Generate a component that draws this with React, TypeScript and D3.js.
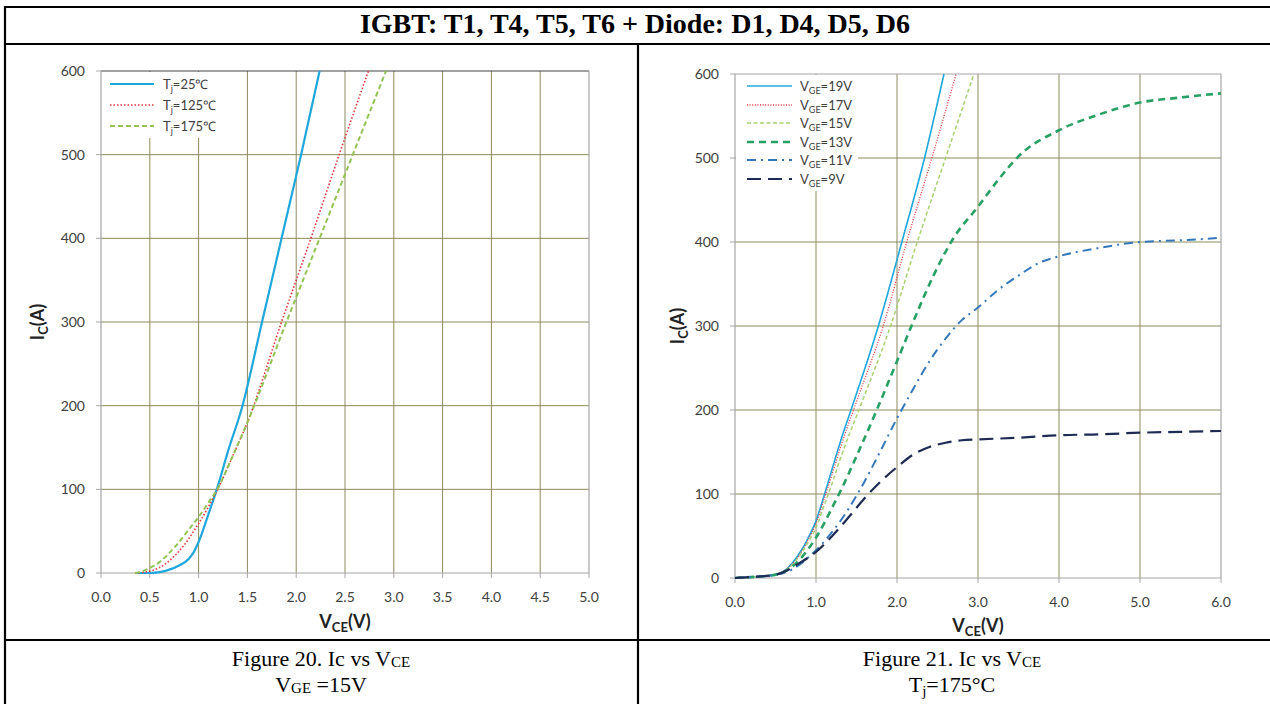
import React from 'react';
import * as d3 from 'd3';

// ---------- Data ----------
const TITLE = 'IGBT: T1, T4, T5, T6 + Diode: D1, D4, D5, D6';

const leftXTicks = [0, 0.5, 1, 1.5, 2, 2.5, 3, 3.5, 4, 4.5, 5];
const rightXTicks = [0, 1, 2, 3, 4, 5, 6];
const yTicks = [0, 100, 200, 300, 400, 500, 600];

// Figure 20 : VGE = 15V, different Tj
const tj25Vce = [0.35, 0.5, 0.6, 0.7, 0.8, 0.9, 0.95, 1.0, 1.1, 1.2, 1.3, 1.45, 1.65, 1.85, 2.05, 2.24];
const tj25Ic = [0, 0, 1, 4, 9, 17, 25, 37, 70, 105, 145, 200, 300, 400, 500, 600];
const tj125Vce = [0.35, 0.45, 0.55, 0.65, 0.75, 0.85, 0.95, 1.0, 1.1, 1.2, 1.35, 1.5, 1.85, 2.15, 2.44, 2.74];
const tj125Ic = [0, 1, 4, 10, 20, 33, 50, 59, 79, 101, 140, 180, 300, 400, 500, 600];
const tj175Vce = [0.35, 0.42, 0.5, 0.6, 0.7, 0.8, 0.9, 1.0, 1.1, 1.2, 1.35, 1.5, 1.9, 2.24, 2.58, 2.92];
const tj175Ic = [0, 2, 6, 13, 24, 37, 52, 67, 84, 102, 140, 180, 300, 400, 500, 600];

// Figure 21 : Tj = 175°C, different VGE
const vge19Vce = [0, 0.25, 0.5, 0.6, 0.7, 0.8, 0.9, 1.0, 1.1, 1.2, 1.3, 1.45, 1.77, 2.06, 2.34, 2.58];
const vge19Ic = [0, 1.5, 4, 8, 17, 30, 47, 68, 98, 130, 162, 205, 300, 400, 500, 600];
const vge17Vce = [0, 0.25, 0.5, 0.6, 0.7, 0.8, 0.9, 1.0, 1.1, 1.2, 1.3, 1.5, 1.83, 2.12, 2.43, 2.73];
const vge17Ic = [0, 1.5, 4, 8, 16, 28, 45, 65, 94, 124, 155, 210, 300, 400, 500, 600];
const vge15Vce = [0, 0.25, 0.5, 0.6, 0.7, 0.8, 0.9, 1.0, 1.1, 1.2, 1.3, 1.55, 1.92, 2.25, 2.6, 2.95];
const vge15Ic = [0, 1.5, 4, 8, 15, 27, 42, 60, 86, 113, 142, 205, 300, 400, 500, 600];
const vge13Vce = [0, 0.25, 0.5, 0.6, 0.7, 0.8, 0.9, 1.0, 1.1, 1.2, 1.3, 1.5, 1.75, 2.0, 2.2, 2.45, 2.7, 3.0, 3.25, 3.5, 4.0, 4.5, 5.0, 5.5, 6.0];
const vge13Ic = [0, 1.5, 4, 7, 13, 22, 34, 48, 65, 84, 103, 145, 200, 258, 305, 360, 405, 442, 474, 502, 533, 552, 566, 572, 577];
const vge11Vce = [0, 0.25, 0.5, 0.6, 0.7, 0.8, 0.9, 1.0, 1.2, 1.4, 1.5, 1.6, 1.8, 2.0, 2.2, 2.4, 2.6, 2.8, 3.0, 3.25, 3.5, 3.75, 4.0, 4.5, 5.0, 5.5, 6.0];
const vge11Ic = [0, 1.5, 4, 6, 10, 16, 24, 33, 55, 82, 98, 115, 152, 190, 225, 258, 285, 307, 322, 343, 360, 375, 383, 393, 400, 402, 405];
const vge9Vce = [0, 0.25, 0.5, 0.6, 0.7, 0.8, 0.9, 1.0, 1.2, 1.4, 1.6, 1.8, 2.0, 2.2, 2.4, 2.6, 2.8, 3.0, 3.5, 4.0, 4.5, 5.0, 5.5, 6.0];
const vge9Ic = [0, 1.5, 4, 7, 12, 18, 24, 31, 50, 72, 95, 115, 132, 147, 156, 161, 164, 165, 167, 170, 171, 173, 174, 175];

type Series = {
  main: string; sub: string; rest: string;
  xs: number[]; ys: number[];
  color: string; width: number; dash?: string;
};

const leftSeries: Series[] = [
  { main: 'T', sub: 'j', rest: '=25\u2103', xs: tj25Vce, ys: tj25Ic, color: '#1fa7dd', width: 2.2 },
  { main: 'T', sub: 'j', rest: '=125\u2103', xs: tj125Vce, ys: tj125Ic, color: '#e5343a', width: 1.6, dash: '1.5,2' },
  { main: 'T', sub: 'j', rest: '=175\u2103', xs: tj175Vce, ys: tj175Ic, color: '#92c353', width: 2, dash: '5,3' },
];

const rightSeries: Series[] = [
  { main: 'V', sub: 'GE', rest: '=19V', xs: vge19Vce, ys: vge19Ic, color: '#1fa7dd', width: 1.6 },
  { main: 'V', sub: 'GE', rest: '=17V', xs: vge17Vce, ys: vge17Ic, color: '#e5343a', width: 1.3, dash: '1,1.6' },
  { main: 'V', sub: 'GE', rest: '=15V', xs: vge15Vce, ys: vge15Ic, color: '#a9d26e', width: 1.5, dash: '4,2.5' },
  { main: 'V', sub: 'GE', rest: '=13V', xs: vge13Vce, ys: vge13Ic, color: '#27a064', width: 2.6, dash: '7,5' },
  { main: 'V', sub: 'GE', rest: '=11V', xs: vge11Vce, ys: vge11Ic, color: '#3478bb', width: 2, dash: '9,5,2,5' },
  { main: 'V', sub: 'GE', rest: '=9V', xs: vge9Vce, ys: vge9Ic, color: '#1d2b55', width: 2.2, dash: '14,7' },
];

// ---------- Chart ----------
const FONT = 'Lato, "Open Sans", sans-serif';
const GRID = '#8d8a5c';
const EDGE = '#a6a6a6';

type ChartProps = {
  left: number; right: number; top: number; bottom: number;
  xMax: number; xTicks: number[]; series: Series[];
  legend: { x: number; y: number; w: number; h: number; rows: number[]; s1: number; s2: number; tx: number };
  yTitle: [number, number]; xTitle: [number, number];
  id: string; topColor: string;
};

function Chart(p: ChartProps) {
  const x = d3.scaleLinear().domain([0, p.xMax]).range([p.left, p.right]);
  const y = d3.scaleLinear().domain([0, 600]).range([p.bottom, p.top]);
  const line = d3.line<[number, number]>().x(d => x(d[0])).y(d => y(d[1])).curve(d3.curveMonotoneX);
  const fmt = d3.format('.1f');
  return (
    <g>
      <defs>
        <clipPath id={p.id}>
          <rect x={p.left} y={p.top - 1} width={p.right - p.left} height={p.bottom - p.top + 2} />
        </clipPath>
      </defs>
      {p.xTicks.slice(1, -1).map(t => (
        <line key={'gx' + t} x1={x(t)} x2={x(t)} y1={p.top} y2={p.bottom} stroke={GRID} strokeWidth={1} />
      ))}
      {yTicks.slice(1, -1).map(t => (
        <line key={'gy' + t} x1={p.left} x2={p.right} y1={y(t)} y2={y(t)} stroke={GRID} strokeWidth={1} />
      ))}
      <line x1={p.left} x2={p.right} y1={p.top} y2={p.top} stroke={p.topColor} strokeWidth={1.2} />
      <line x1={p.right} x2={p.right} y1={p.top} y2={p.bottom} stroke={EDGE} strokeWidth={1.2} />
      <line x1={p.left} x2={p.left} y1={p.top} y2={p.bottom} stroke={EDGE} strokeWidth={1.2} />
      <line x1={p.left} x2={p.right} y1={p.bottom} y2={p.bottom} stroke={EDGE} strokeWidth={1.2} />
      {yTicks.map(t => (
        <line key={'ty' + t} x1={p.left - 5} x2={p.left} y1={y(t)} y2={y(t)} stroke={EDGE} strokeWidth={1} />
      ))}
      {p.xTicks.map(t => (
        <line key={'tx' + t} x1={x(t)} x2={x(t)} y1={p.bottom} y2={p.bottom + 5} stroke={EDGE} strokeWidth={1} />
      ))}
      {yTicks.map(t => (
        <text key={'ly' + t} x={p.left - 16} y={y(t)} dy="0.35em" textAnchor="end" fontFamily={FONT} fontSize={14} fill="#404040">{t}</text>
      ))}
      {p.xTicks.map(t => (
        <text key={'lx' + t} x={x(t)} y={p.bottom + 29} textAnchor="middle" fontFamily={FONT} fontSize={14} fill="#404040">{fmt(t)}</text>
      ))}
      <text transform={`translate(${p.yTitle[0]},${p.yTitle[1]}) rotate(-90)`} textAnchor="middle" fontFamily={FONT} fontWeight="bold" fontSize={18} fill="#222">
        I<tspan fontSize={13} dy={4}>C</tspan><tspan dy={-4}>(A)</tspan>
      </text>
      <text x={p.xTitle[0]} y={p.xTitle[1]} textAnchor="middle" fontFamily={FONT} fontWeight="bold" fontSize={18} fill="#222">
        V<tspan fontSize={13} dy={4}>CE</tspan><tspan dy={-4}>(V)</tspan>
      </text>
      <rect x={p.legend.x} y={p.legend.y} width={p.legend.w} height={p.legend.h} fill="#fff" />
      <g clipPath={`url(#${p.id})`}>
        {p.series.map((s, i) => (
          <path key={'s' + i} d={line(s.xs.map((v, k) => [v, s.ys[k]] as [number, number])) || ''}
            fill="none" stroke={s.color} strokeWidth={s.width} strokeDasharray={s.dash} />
        ))}
      </g>
      {p.series.map((s, i) => (
        <g key={'lg' + i}>
          <line x1={p.legend.s1} x2={p.legend.s2} y1={p.legend.rows[i]} y2={p.legend.rows[i]} stroke={s.color} strokeWidth={s.width} strokeDasharray={s.dash} />
          <text x={p.legend.tx} y={p.legend.rows[i]} dy="0.35em" fontFamily={FONT} fontSize={13} fill="#404040">
            {s.main}<tspan fontSize={9} dy={3}>{s.sub}</tspan><tspan dy={-3}>{s.rest}</tspan>
          </text>
        </g>
      ))}
    </g>
  );
}

export default function App() {
  const SERIF = '"Liberation Serif", "Times New Roman", serif';
  return (
    <svg width={1270} height={704} style={{ position: 'absolute', left: 0, top: 0, background: '#fff' }}>
      <rect x={0} y={0} width={1270} height={704} fill="#fff" />
      <line x1={5} x2={1270} y1={7} y2={7} stroke="#000" strokeWidth={2.2} />
      <line x1={5} x2={5} y1={6} y2={704} stroke="#000" strokeWidth={2.2} />
      <line x1={5} x2={1270} y1={44} y2={44} stroke="#000" strokeWidth={2.2} />
      <line x1={638} x2={638} y1={44} y2={704} stroke="#000" strokeWidth={2.2} />
      <line x1={5} x2={1270} y1={640} y2={640} stroke="#000" strokeWidth={2.2} />
      <text x={635} y={33} textAnchor="middle" fontFamily={SERIF} fontWeight="bold" fontSize={28} fill="#000">{TITLE}</text>

      <Chart id="c20" left={101} right={589} top={71} bottom={573} xMax={5} xTicks={leftXTicks} series={leftSeries}
        legend={{ x: 102, y: 72, w: 142, h: 66, rows: [84, 105, 126], s1: 110, s2: 154, tx: 163 }}
        yTitle={[44, 322]} xTitle={[345, 628]} topColor="#444" />
      <Chart id="c21" left={735} right={1221} top={74} bottom={578} xMax={6} xTicks={rightXTicks} series={rightSeries}
        legend={{ x: 736, y: 75, w: 122, h: 116, rows: [86, 105, 123, 142, 160, 179], s1: 747, s2: 792, tx: 800 }}
        yTitle={[684, 326]} xTitle={[978, 632]} topColor={EDGE} />

      <text x={321} y={666} textAnchor="middle" fontFamily={SERIF} fontSize={22} fill="#000">
        Figure 20. Ic vs V<tspan fontSize={15} dy={1}>CE</tspan>
      </text>
      <text x={321} y={692} textAnchor="middle" fontFamily={SERIF} fontSize={22} fill="#000">
        V<tspan fontSize={15} dy={1}>GE</tspan><tspan dy={-1}> =15V</tspan>
      </text>
      <text x={952} y={666} textAnchor="middle" fontFamily={SERIF} fontSize={22} fill="#000">
        Figure 21. Ic vs V<tspan fontSize={15} dy={1}>CE</tspan>
      </text>
      <text x={952} y={692} textAnchor="middle" fontFamily={SERIF} fontSize={22} fill="#000">
        T<tspan fontSize={15} dy={4}>j</tspan><tspan dy={-4}>=175°C</tspan>
      </text>
    </svg>
  );
}
